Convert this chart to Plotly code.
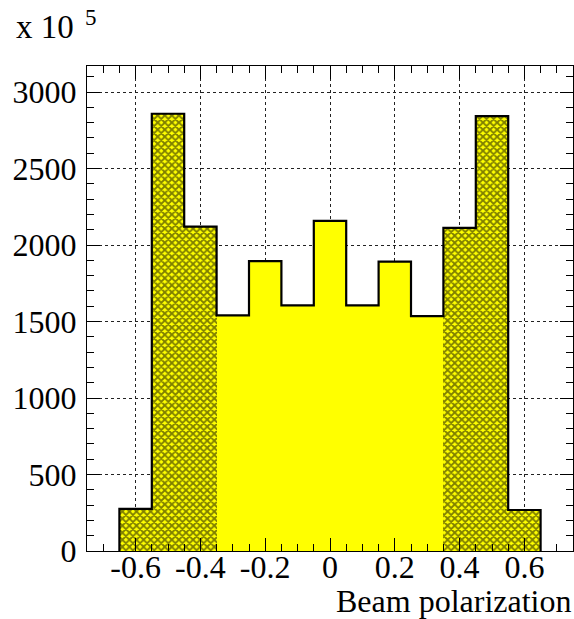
import plotly.graph_objects as go

# Data
bin_centers = [-0.6, -0.5, -0.4, -0.3, -0.2, -0.1, 0.0, 0.1, 0.2, 0.3, 0.4, 0.5, 0.6]
counts = [275, 2858, 2120, 1540, 1895, 1605, 2158, 1605, 1892, 1535, 2112, 2842, 268]
bin_width = 0.1
x_tick_vals = [-0.6, -0.4, -0.2, 0.0, 0.2, 0.4, 0.6]
x_tick_text = ["-0.6", "-0.4", "-0.2", "0", "0.2", "0.4", "0.6"]
y_tick_vals = [0, 500, 1000, 1500, 2000, 2500, 3000]
y_tick_text = ["0", "500", "1000", "1500", "2000", "2500", "3000"]

FONT = "Liberation Serif"

hatched = [abs(c) >= 0.35 for c in bin_centers]
hx = [c for c, h in zip(bin_centers, hatched) if h]
hy = [v for v, h in zip(counts, hatched) if h]
px_ = [c for c, h in zip(bin_centers, hatched) if not h]
py_ = [v for v, h in zip(counts, hatched) if not h]

fig = go.Figure()
fig.add_trace(go.Bar(
    x=px_, y=py_, width=bin_width,
    marker=dict(color="#ffff00", line=dict(width=0)),
    showlegend=False, hoverinfo="skip"))
fig.add_trace(go.Bar(
    x=hx, y=hy, width=bin_width,
    marker=dict(color="#ffff00", line=dict(width=0),
                pattern=dict(shape="x", fgcolor="black", bgcolor="#ffff00",
                             size=5, solidity=0.6, fillmode="overlay")),
    showlegend=False, hoverinfo="skip"))

# step outline
left_edges = [c - bin_width / 2 for c in bin_centers]
right_end = bin_centers[-1] + bin_width / 2
sx = [left_edges[0]] + left_edges + [right_end]
sy = [0] + counts + [0]
fig.add_trace(go.Scatter(
    x=sx, y=sy, mode="lines", line=dict(color="black", width=2.2, shape="hv"),
    showlegend=False, hoverinfo="skip"))

fig.update_layout(
    width=574, height=619,
    margin=dict(l=87, r=1, t=66, b=68),
    paper_bgcolor="white", plot_bgcolor="white",
    bargap=0,
    font=dict(family=FONT, size=32, color="black"),
    xaxis=dict(
        range=[-0.75, 0.75], tickmode="array", tickvals=x_tick_vals, ticktext=x_tick_text,
        ticks="inside", ticklen=13, tickwidth=1, tickcolor="black",
        showline=True, linecolor="black", linewidth=1, mirror="allticks",
        showgrid=True, gridcolor="#222222", gridwidth=1, griddash="dot",
        zeroline=False, ticklabelstandoff=-12,
        minor=dict(dtick=0.05, tick0=0, ticks="inside", ticklen=7, tickcolor="black", showgrid=False),
        tickfont=dict(family=FONT, size=32),
    ),
    yaxis=dict(
        range=[0, 3170], tickmode="array", tickvals=y_tick_vals, ticktext=y_tick_text,
        ticks="inside", ticklen=13, tickwidth=1, tickcolor="black",
        showline=True, linecolor="black", linewidth=1, mirror="allticks",
        showgrid=True, gridcolor="#222222", gridwidth=1, griddash="dot",
        zeroline=False, ticklabelstandoff=3,
        minor=dict(dtick=100, tick0=0, ticks="inside", ticklen=7, tickcolor="black", showgrid=False),
        tickfont=dict(family=FONT, size=32),
    ),
    annotations=[
        dict(text="Beam polarization", xref="paper", yref="paper", x=1, y=0,
             xanchor="right", yanchor="top", yshift=-30, showarrow=False,
             font=dict(family=FONT, size=32)),
        dict(text="x 10", xref="paper", yref="paper", x=0, y=1,
             xanchor="left", yanchor="bottom", xshift=-73, yshift=19, showarrow=False,
             font=dict(family=FONT, size=33)),
        dict(text="5", xref="paper", yref="paper", x=0, y=1,
             xanchor="left", yanchor="bottom", xshift=-4, yshift=34, showarrow=False,
             font=dict(family=FONT, size=23)),
    ],
)

fig.write_html("out.html")
